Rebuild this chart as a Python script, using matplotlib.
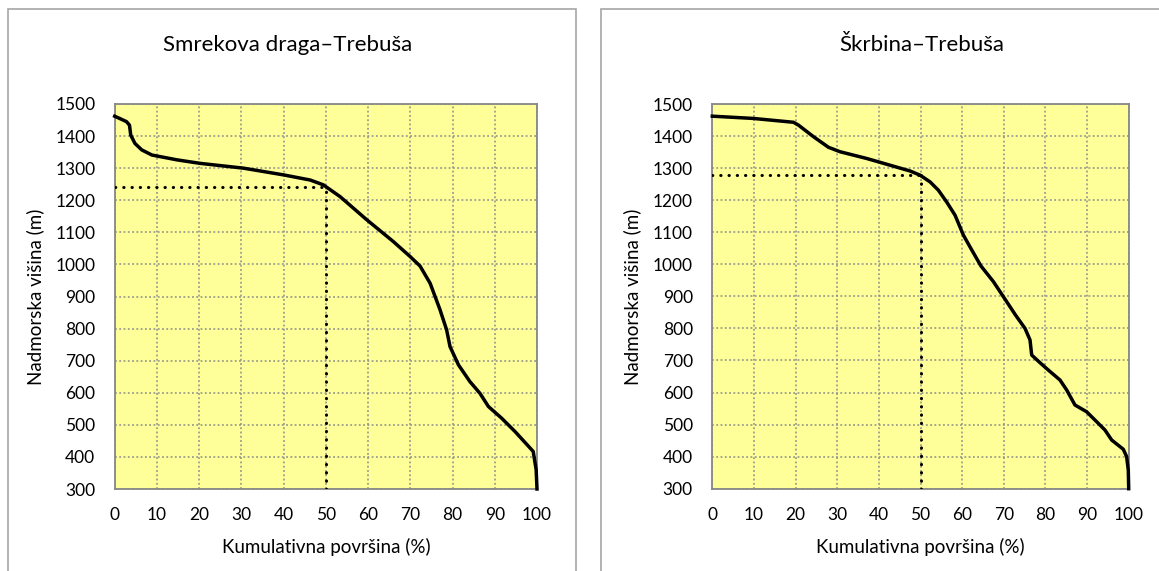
import matplotlib
matplotlib.use('Agg')
import matplotlib.pyplot as plt
from matplotlib.patches import Rectangle

plt.rcParams['font.family'] = ['Lato', 'DejaVu Sans']

# Smrekova draga - Trebusa
smr_pct = [0, 2.8, 3.5, 3.8, 4.8, 6.4, 8.8, 14.7, 20.2, 30.5, 40, 46.3, 49.4, 53.4,
           59.7, 66, 70, 72.3, 74.7, 77, 78.6, 79.4, 81.4, 84.1, 86.5, 88.5, 91.6,
           94.8, 98, 99.1, 99.8, 100]
smr_alt = [1462, 1445, 1434, 1403, 1377, 1357, 1341, 1326, 1315, 1300, 1279, 1263,
           1248, 1211, 1139, 1071, 1024, 995, 941, 860, 796, 744, 687, 635, 598, 557,
           521, 479, 433, 417, 360, 300]
smr_median = 1240

# Skrbina - Trebusa
skr_pct = [0, 9.8, 19.5, 20.7, 24.3, 27.9, 30.7, 37.1, 43.5, 47.5, 49.9, 52.3, 54.3,
           56.3, 58.3, 60.3, 61.9, 64.5, 67.5, 69.9, 72.8, 75.1, 76.3, 76.7, 78.7,
           80.7, 83.5, 85.1, 87.1, 89.9, 92.3, 94.3, 95.9, 98.7, 99.5, 99.9, 100]
skr_alt = [1462, 1455, 1443, 1434, 1398, 1365, 1351, 1330, 1306, 1291, 1278, 1257,
           1231, 1194, 1153, 1091, 1054, 995, 946, 899, 842, 800, 764, 717, 693, 670,
           639, 608, 561, 540, 509, 483, 452, 423, 400, 358, 300]
skr_median = 1280

titles = ['Smrekova draga\u2013Trebuša', 'Škrbina\u2013Trebuša']
xlabel = 'Kumulativna površina (%)'
ylabel = 'Nadmorska višina (m)'
xticks = list(range(0, 101, 10))
yticks = list(range(300, 1501, 100))

W, H = 1159, 571
fig = plt.figure(figsize=(W / 100, H / 100), dpi=100)

# chart-area frames (Excel style)
fig.patches.append(Rectangle((8 / W, -0.1), 568 / W, 1.1 - 9 / H, transform=fig.transFigure,
                             fill=False, ec='#a6a6a6', lw=1.2))
fig.patches.append(Rectangle((601 / W, -0.1), 0.6, 1.1 - 9 / H, transform=fig.transFigure,
                             fill=False, ec='#a6a6a6', lw=1.2))

panels = [
    (smr_pct, smr_alt, smr_median, [114.7 / W, 1 - 489 / H, 422.3 / W, 385 / H], 288, 44),
    (skr_pct, skr_alt, skr_median, [712.3 / W, 1 - 488.7 / H, 416.4 / W, 384.7 / H], 922, 641),
]

for i, (pct, alt, med, rect, tx, ylx) in enumerate(panels):
    ax = fig.add_axes(rect)
    ax.set_facecolor('#ffff99')
    ax.set_xlim(0, 100)
    ax.set_ylim(300, 1500)
    ax.set_xticks(xticks)
    ax.set_yticks(yticks)
    ax.tick_params(length=0, labelsize=12.5, pad=13, colors='black')
    ax.tick_params(axis='y', pad=14)
    ax.grid(True, color='#8c8c8c', linestyle=(0, (1.2, 1.6)), lw=1.1)
    ax.set_axisbelow(True)
    for sp in ax.spines.values():
        sp.set_color('#878787')
        sp.set_linewidth(1.3)

    ax.plot([0, 50], [med, med], color='black', lw=2.2,
            linestyle=(0, (0.1, 2.6)), dash_capstyle='round', zorder=3)
    ax.plot([50, 50], [300, med], color='black', lw=2.2,
            linestyle=(0, (0.1, 2.6)), dash_capstyle='round', zorder=3)
    ax.plot(pct, alt, color='black', lw=2.5, solid_joinstyle='round', clip_on=False, zorder=4)

    fig.text(tx / W, 1 - 45 / H, titles[i], ha='center', va='center', fontsize=16)
    ax.set_xlabel(xlabel, fontsize=13.5, labelpad=11)
    ax.set_ylabel(ylabel, fontsize=13.5)
    ax.yaxis.set_label_coords((ylx - rect[0] * W) / (rect[2] * W), 0.5)

fig.savefig('out.png', dpi=100)
